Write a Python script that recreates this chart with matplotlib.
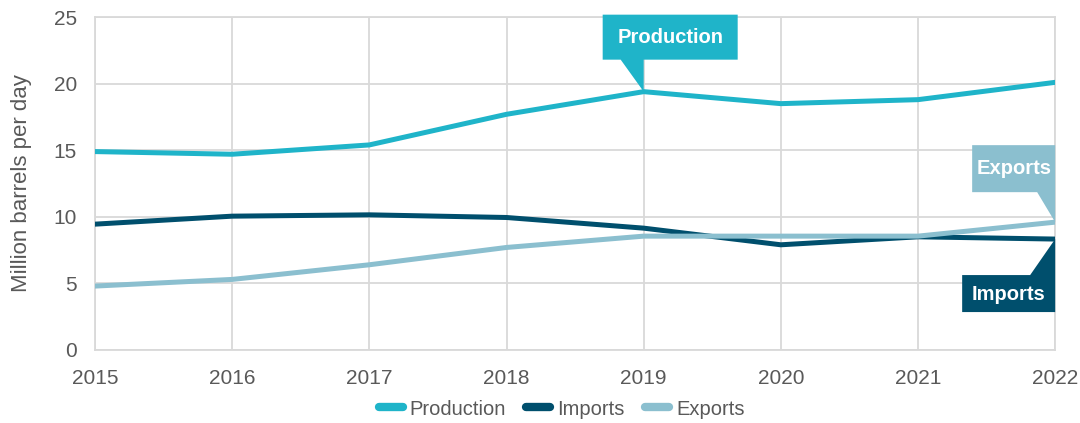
import matplotlib.pyplot as plt
import matplotlib.transforms as mtransforms
from matplotlib.patches import Polygon

plt.rcParams['font.family'] = ['Liberation Sans', 'DejaVu Sans']

years = [2015, 2016, 2017, 2018, 2019, 2020, 2021, 2022]
production = [14.9, 14.7, 15.4, 17.7, 19.4, 18.5, 18.8, 20.1]
imports = [9.45, 10.05, 10.15, 9.95, 9.15, 7.9, 8.5, 8.33]
exports = [4.8, 5.3, 6.4, 7.7, 8.55, 8.55, 8.55, 9.6]

c_prod = '#1FB4C9'
c_imp = '#004F6D'
c_exp = '#8BBFCF'
grid_c = '#D9D9D9'
text_c = '#595959'

fig = plt.figure(figsize=(10.8, 4.23), dpi=100)
ax = fig.add_axes([0.088, 0.1726, 0.889, 0.787])

ax.plot(years, production, color=c_prod, lw=3.6, label='Production', solid_capstyle='round', zorder=3)
ax.plot(years, imports, color=c_imp, lw=3.6, label='Imports', solid_capstyle='round', zorder=3)
ax.plot(years, exports, color=c_exp, lw=3.6, label='Exports', solid_capstyle='round', zorder=4)

ax.set_xlim(2015, 2022)
ax.set_ylim(0, 25)
ax.set_xticks(years)
ax.set_yticks([0, 5, 10, 15, 20, 25])
ax.grid(True, color=grid_c, lw=1.3, zorder=0)
ax.tick_params(length=0, labelsize=15, labelcolor=text_c)
ax.tick_params(axis='x', pad=14)
ax.tick_params(axis='y', pad=13)
for s in ax.spines.values():
    s.set_color(grid_c)
    s.set_linewidth(1.3)
ax.set_ylabel('Million barrels per day', fontsize=16, color=text_c)
ax.yaxis.set_label_coords(-0.066, 0.5)


def callout(x, y, verts, text_xy, label, color):
    # vertices are pixel offsets from the data point
    trans = mtransforms.Affine2D().scale(1 / 100) + fig.dpi_scale_trans + \
        mtransforms.ScaledTranslation(x, y, ax.transData)
    ax.add_patch(Polygon(verts, closed=True, facecolor=color, edgecolor='none',
                         transform=trans, clip_on=False, zorder=5))
    ax.text(text_xy[0], text_xy[1], label, transform=trans, ha='center', va='center',
            color='white', fontsize=14.5, fontweight='bold', zorder=6)


callout(years[4], production[4],
        [(-41, 32), (-23, 32), (0, 0), (0, 32), (94, 32), (94, 77), (-41, 77)],
        (26.5, 54.5), 'Production', c_prod)
callout(years[-1], exports[-1],
        [(-83, 30), (-18, 30), (0, 0), (0, 77), (-83, 77)],
        (-41, 54), 'Exports', c_exp)
callout(years[-1], imports[-1],
        [(0, 0), (-25, -36), (-93, -36), (-93, -73), (0, -73)],
        (-46.5, -55), 'Imports', c_imp)

handles, labels = ax.get_legend_handles_labels()
leg = fig.legend(handles, labels, loc='center', bbox_to_anchor=(0.52, 0.033), ncol=3,
                 frameon=False, fontsize=14.5, handlelength=1.2, handletextpad=0.35,
                 columnspacing=1.0)
for line in leg.get_lines():
    line.set_linewidth(6)
    line.set_solid_capstyle('round')
for t in leg.get_texts():
    t.set_color(text_c)

plt.savefig('out.png', dpi=100)
plt.close()
